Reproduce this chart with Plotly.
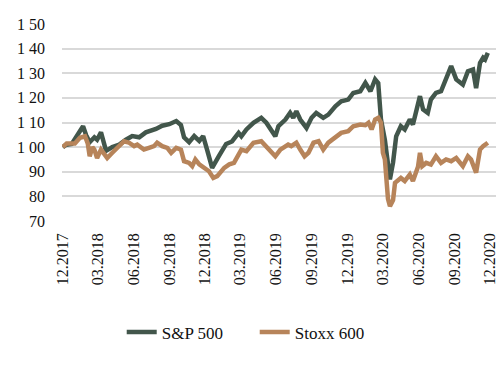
import plotly.graph_objects as go

# S&P 500 (rebased, 12.2017 = 100)
sp_dates = ["2017-12-01","2017-12-10","2017-12-24","2018-01-06","2018-01-22","2018-01-30","2018-02-08","2018-02-20",
            "2018-02-27","2018-03-09","2018-03-17","2018-03-22","2018-04-07","2018-04-25","2018-05-12","2018-05-28",
            "2018-06-15","2018-07-02","2018-07-28","2018-08-13","2018-08-31","2018-09-18","2018-09-30","2018-10-08",
            "2018-10-21","2018-11-03","2018-11-16","2018-11-26","2018-12-06","2018-12-19","2019-01-06","2019-01-24",
            "2019-02-08","2019-02-25","2019-03-04","2019-03-17","2019-04-04","2019-04-24","2019-05-07","2019-05-25",
            "2019-05-30","2019-06-07","2019-06-25","2019-07-07","2019-07-15","2019-07-23","2019-08-02","2019-08-18",
            "2019-08-31","2019-09-12","2019-09-30","2019-10-13","2019-10-31","2019-11-15","2019-12-03","2019-12-16",
            "2020-01-03","2020-01-16","2020-01-29","2020-02-10","2020-02-18","2020-02-25","2020-03-06","2020-03-19",
            "2020-03-27","2020-04-04","2020-04-16","2020-04-26","2020-05-09","2020-05-17","2020-06-04","2020-06-12",
            "2020-06-24","2020-07-02","2020-07-15","2020-07-28","2020-08-10","2020-08-23","2020-09-05","2020-09-22",
            "2020-10-05","2020-10-18","2020-10-26","2020-11-05","2020-11-13","2020-11-18","2020-11-25"]
sp_values = [100, 101, 101.3, 104.5, 108.5, 104.8, 102, 104,
             103, 106, 102, 98.5, 100, 101, 103, 104.5,
             104, 106, 107.4, 108.7, 109.3, 110.6, 109, 104,
             102, 104.5, 102.5, 104.5, 99, 91.6, 96.5, 101.3,
             102.3, 105.8, 104.4, 107.2, 109.9, 111.9, 109.9, 105.1,
             104.4, 108.5, 111.2, 113.9, 111.9, 114.6, 111.2, 107.8,
             111.9, 113.9, 111.9, 113.2, 116.6, 118.6, 119.3, 122,
             122.7, 126.1, 122.7, 127.5, 126, 111.2, 103, 86.9,
             93.8, 104.4, 108.5, 107.2, 111.2, 109.2, 120.7, 115.3,
             113.9, 119.3, 122, 122.7, 127.5, 132.9, 127.5, 125.4,
             130.8, 131.5, 124, 134.2, 136.3, 135.6, 138.3]

# Stoxx 600 (rebased, 12.2017 = 100)
sx_dates = ["2017-12-01","2017-12-11","2018-01-01","2018-01-14","2018-01-27","2018-02-03","2018-02-08","2018-02-15",
            "2018-02-20","2018-02-27","2018-03-09","2018-03-20","2018-03-25","2018-04-07","2018-04-25","2018-05-07",
            "2018-05-20","2018-06-02","2018-06-10","2018-06-27","2018-07-10","2018-07-23","2018-07-31","2018-08-13",
            "2018-08-26","2018-09-05","2018-09-18","2018-09-30","2018-10-08","2018-10-21","2018-10-29","2018-11-06",
            "2018-11-16","2018-11-28","2018-12-11","2018-12-22","2019-01-01","2019-01-19","2019-02-01","2019-02-13",
            "2019-02-25","2019-03-04","2019-03-17","2019-04-04","2019-04-24","2019-05-07","2019-05-25","2019-05-30",
            "2019-06-12","2019-07-02","2019-07-10","2019-07-23","2019-08-02","2019-08-13","2019-08-23","2019-09-05",
            "2019-09-18","2019-09-30","2019-10-13","2019-10-31","2019-11-15","2019-12-03","2019-12-16","2020-01-03",
            "2020-01-16","2020-01-24","2020-02-01","2020-02-10","2020-02-18","2020-02-25","2020-03-01","2020-03-06",
            "2020-03-14","2020-03-19","2020-03-27","2020-04-01","2020-04-16","2020-04-26","2020-05-09","2020-05-17",
            "2020-05-30","2020-06-04","2020-06-10","2020-06-20","2020-07-02","2020-07-15","2020-07-28","2020-08-10",
            "2020-08-23","2020-09-05","2020-09-22","2020-10-05","2020-10-13","2020-10-26","2020-11-05","2020-11-13",
            "2020-11-25"]
sx_values = [100, 101.5, 101.5, 103.8, 104.4, 101.5, 96.3, 100,
             99, 95.6, 99, 97, 95.6, 97.7, 100.4, 102.4,
             101.8, 100.4, 101, 99, 99.7, 100.4, 101.8, 100.4,
             99.7, 97.7, 99.7, 99, 94.3, 93.6, 92.3, 95,
             93, 91.6, 90.2, 87.5, 88.2, 91.6, 93, 93.6,
             97, 99, 98.4, 101.8, 102.4, 100.4, 97.7, 96.3,
             99, 101, 100.4, 101.8, 99, 96.3, 97.7, 101.8,
             102.4, 99, 101.8, 103.8, 105.8, 106.5, 108.5, 109.2,
             108.9, 109.9, 107.2, 111.2, 111.9, 109.9, 97.7, 95,
             79, 76, 78.5, 85.5, 87.5, 86.2, 88.9, 86.2,
             92, 97.7, 92.3, 93.6, 92.9, 96.3, 93.6, 95,
             94.3, 95.6, 92.3, 96.3, 95, 89.6, 99, 100.4,
             101.8]

x_tick_vals = ["2017-12-01","2018-03-01","2018-06-01","2018-09-01","2018-12-01","2019-03-01","2019-06-01",
               "2019-09-01","2019-12-01","2020-03-01","2020-06-01","2020-09-01","2020-12-01"]
x_tick_text = ["12.2017","03.2018","06.2018","09.2018","12.2018","03.2019","06.2019",
               "09.2019","12.2019","03.2020","06.2020","09.2020","12.2020"]
y_tick_vals = [70, 80, 90, 100, 110, 120, 130, 140, 150]
y_tick_text = ["70", "80", "90", "1 00", "1 10", "1 20", "1 30", "1 40", "1 50"]

FONT = "Liberation Serif, Times New Roman, serif"

fig = go.Figure()
fig.add_trace(go.Scatter(x=sp_dates, y=sp_values, mode="lines", name="S&P 500",
                         line=dict(color="#42564B", width=4.5)))
fig.add_trace(go.Scatter(x=sx_dates, y=sx_values, mode="lines", name="Stoxx 600",
                         line=dict(color="#B7845A", width=4.5)))

fig.update_layout(
    width=503, height=365,
    margin=dict(l=62, r=5, t=24, b=143.5, pad=0),
    paper_bgcolor="white", plot_bgcolor="white",
    font=dict(family=FONT, size=16, color="#111111"),
    showlegend=True,
    legend=dict(orientation="h", x=0.1376, xanchor="left", y=-0.566, yanchor="middle",
                font=dict(family=FONT, size=17, color="#111111"),
                entrywidth=88, entrywidthmode="pixels", tracegroupgap=0),
    xaxis=dict(type="date", range=["2017-11-29", "2020-12-16"],
               tickmode="array", tickvals=x_tick_vals, ticktext=x_tick_text,
               tickangle=-90, showgrid=False, zeroline=False, showline=False,
               ticks="", ticklabelstandoff=8),
    yaxis=dict(range=[70, 150], tickmode="array", tickvals=y_tick_vals, ticktext=y_tick_text,
               showgrid=True, gridcolor="#D9D9D9", gridwidth=2, zeroline=False, showline=False,
               ticks="", ticklabelstandoff=16),
)

# remove the browser's default 8px body margin so the 503x365 figure fills the window
fig.write_html("out.html", config={"displayModeBar": False},
               post_script="document.body.style.margin='0';document.body.style.overflow='hidden';")
